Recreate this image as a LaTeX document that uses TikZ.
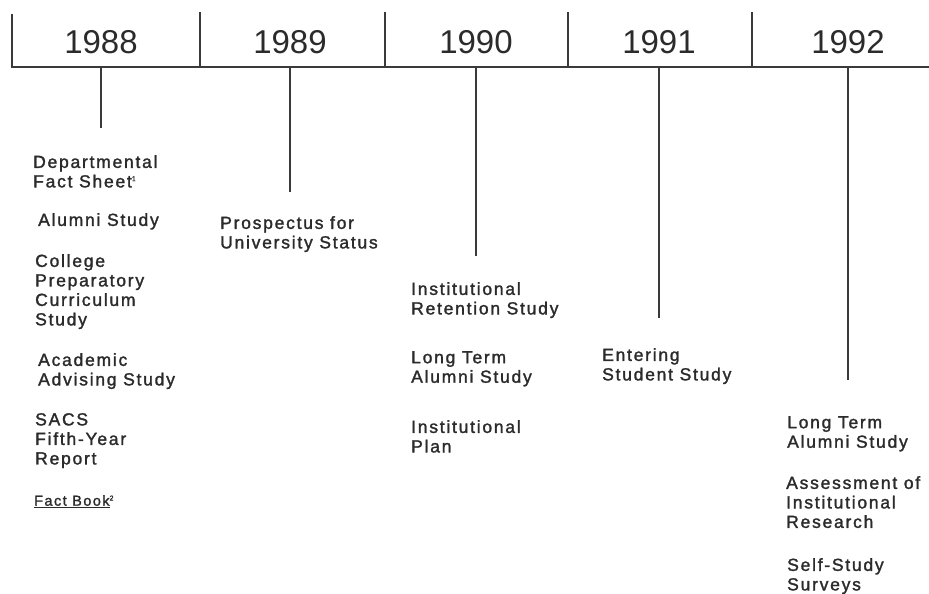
\documentclass[tikz,border=0pt]{standalone}
\usepackage{fontspec}
\setmainfont{Liberation Sans}
\usepackage{tikz}
\usetikzlibrary{positioning, calc}

\definecolor{ink}{HTML}{2B2B2B}
\definecolor{rule}{HTML}{3A3A3A}

\newfontfamily\evfamily[FakeBold=1.6, LetterSpace=10]{Liberation Sans}
\newcommand{\evfont}{\evfamily\fontsize{17.5}{19.5}\selectfont}
\newcommand{\notefont}{\evfamily\fontsize{14.5}{17}\selectfont}

\tikzset{
  yearlabel/.style={font=\fontsize{33}{36}\selectfont, text=ink},
  event/.style={anchor=north west, inner sep=0pt, align=left, text=ink, font=\evfont},
  axisline/.style={draw=rule, line width=1.4pt},
  dropline/.style={draw=rule, line width=1.2pt}
}

\begin{document}
\begin{tikzpicture}[x=1pt,y=-1pt]
\useasboundingbox (0,0) rectangle (929,594);

% axis with year cells
\coordinate (axL) at (12,67);
\coordinate (axR) at (929,67);
\draw[axisline] (12,14) -- (axL) -- (axR);
\foreach \dx in {200,385,568,752} {
  \draw[axisline] (\dx,12) -- (\dx,67);
}

% years and drop lines
\foreach \yr/\x/\y in {1988/101/128,1989/290/192,1990/476/256,1991/659/318,1992/848/380} {
  \node[yearlabel] (y\yr) at (\x,42) {\yr};
  \coordinate (top\yr) at (\x,67);
  \coordinate (end\yr) at (\x,\y);
  \draw[dropline] (top\yr) -- (end\yr);
}

% 1988
\node[event] (dfs) at (33,155) {Departmental\\Fact Sheet\textsuperscript{\scriptsize 1}};
\node[event] (alu) at (38,213) {Alumni Study};
\node[event] (cpc) at (35,254) {College\\Preparatory\\Curriculum\\Study};
\node[event] (aas) at (38,353) {Academic\\Advising Study};
\node[event] (sacs) at (35,413) {SACS\\Fifth-Year\\Report};
\node[event, font=\notefont] (fb) at (34,495) {\underline{Fact Book}\textsuperscript{\scriptsize 2}};

% 1989
\node[event] (pus) at (220,216) {Prospectus for\\University Status};

% 1990
\node[event] (irs) at (411,282) {Institutional\\Retention Study};
\node[event] (lta) at (411,351) {Long Term\\Alumni Study};
\node[event] (ipl) at (411,420) {Institutional\\Plan};

% 1991
\node[event] (ess) at (602,348) {Entering\\Student Study};

% 1992
\node[event] (ltb) at (787,416) {Long Term\\Alumni Study};
\node[event] (air) at (786,476) {Assessment of\\Institutional\\Research};
\node[event] (sss) at (787,558) {Self-Study\\Surveys};
\end{tikzpicture}
\end{document}
